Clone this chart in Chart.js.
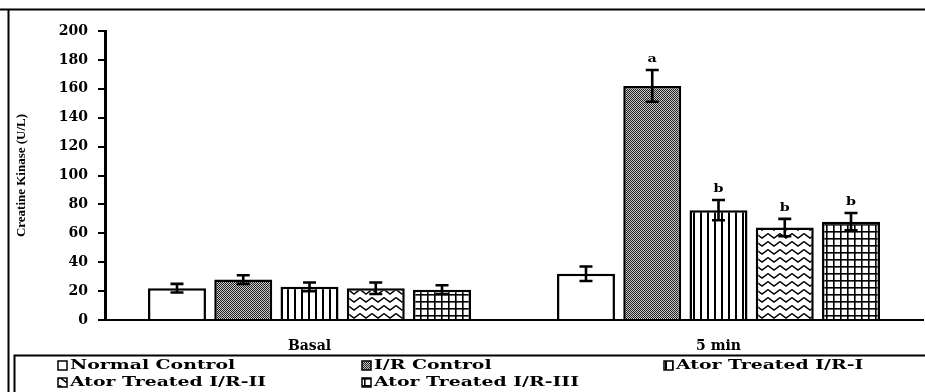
<!DOCTYPE html>
<html>
<head>
<meta charset="utf-8">
<script src="https://cdn.jsdelivr.net/npm/chart.js@4.4.1/dist/chart.umd.min.js"></script>
<style>
  html, body { margin: 0; padding: 0; background: #fff; }
  #wrap { width: 925px; height: 392px; position: relative; }
</style>
</head>
<body>
<div id="wrap"><canvas id="c" width="925" height="392"></canvas></div>
<script>
// Creatine kinase (U/L) per group, basal and after 5 min of reperfusion
const categories = ['Basal', '5 min'];
const groupNames = ['Normal Control', 'I/R Control', 'Ator Treated I/R-I', 'Ator Treated I/R-II', 'Ator Treated I/R-III'];

const normalControl = [22, 32];
const irControl     = [28, 162];
const atorI         = [23, 76];
const atorII        = [22, 64];
const atorIII       = [21, 68];

// standard errors
const normalControlErr = [3, 5];
const irControlErr     = [3, 11];
const atorIErr         = [3, 7];
const atorIIErr        = [4, 6];
const atorIIIErr       = [3, 6];

// significance letters above the bars
const normalControlSig = ['', ''];
const irControlSig     = ['', 'a'];
const atorISig         = ['', 'b'];
const atorIISig        = ['', 'b'];
const atorIIISig       = ['', 'b'];

const yMin = 0, yMax = 200, yStep = 20;

const SERIF = "'DejaVu Serif', 'Liberation Serif', serif";

// hatch fills
function makePattern(kind) {
  const c = document.createElement('canvas');
  const g = c.getContext('2d');
  if (kind === 'dots') {
    c.width = 2; c.height = 2;
    g.fillStyle = '#c8c8c8'; g.fillRect(0, 0, 2, 2);
    g.fillStyle = '#222'; g.fillRect(0, 0, 1, 1); g.fillRect(1, 1, 1, 1);
  } else if (kind === 'vlines') {
    c.width = 7; c.height = 4;
    g.fillStyle = '#fff'; g.fillRect(0, 0, 7, 4);
    g.fillStyle = '#000'; g.fillRect(0, 0, 2, 4);
  } else if (kind === 'zigzag') {
    c.width = 12; c.height = 8;
    g.fillStyle = '#fff'; g.fillRect(0, 0, 12, 8);
    g.strokeStyle = '#000'; g.lineWidth = 1.4;
    g.beginPath(); g.moveTo(0, 1.5); g.lineTo(6, 6); g.lineTo(12, 1.5); g.stroke();
  } else if (kind === 'grid') {
    c.width = 7; c.height = 7;
    g.fillStyle = '#fff'; g.fillRect(0, 0, 7, 7);
    g.fillStyle = '#000'; g.fillRect(0, 0, 7, 1.6); g.fillRect(0, 0, 1.6, 7);
  } else {
    return '#ffffff';
  }
  return g.createPattern(c, 'repeat');
}

const series = [normalControl, irControl, atorI, atorII, atorIII];
const errs = [normalControlErr, irControlErr, atorIErr, atorIIErr, atorIIIErr];
const sigs = [normalControlSig, irControlSig, atorISig, atorIISig, atorIIISig];
const fills = ['none', 'dots', 'vlines', 'zigzag', 'grid'];

const datasets = groupNames.map((name, i) => ({
  label: name,
  data: series[i],
  err: errs[i],
  sig: sigs[i],
  backgroundColor: makePattern(fills[i]),
  borderColor: '#000',
  borderWidth: 2.5,
  categoryPercentage: 0.81,
  barPercentage: 0.875
}));

// stretched text helper
function wideText(ctx, text, x, y, sx, align) {
  ctx.save();
  ctx.translate(x, y);
  ctx.scale(sx, 1);
  ctx.textAlign = align || 'left';
  ctx.fillText(text, 0, 0);
  ctx.restore();
}

const decor = {
  id: 'decor',
  afterDatasetsDraw(chart) {
    const ctx = chart.ctx;
    const y = chart.scales.y;
    chart.data.datasets.forEach((ds, i) => {
      const meta = chart.getDatasetMeta(i);
      meta.data.forEach((bar, j) => {
        const v = ds.data[j], e = ds.err[j];
        const yt = y.getPixelForValue(v + e);
        const yb = y.getPixelForValue(v - e);
        const x = bar.x;
        ctx.save();
        ctx.strokeStyle = '#000';
        ctx.lineWidth = 2.6;
        ctx.beginPath();
        ctx.moveTo(x, yt); ctx.lineTo(x, yb);
        ctx.moveTo(x - 6.5, yt); ctx.lineTo(x + 6.5, yt);
        ctx.moveTo(x - 6.5, yb); ctx.lineTo(x + 6.5, yb);
        ctx.stroke();
        if (ds.sig[j]) {
          ctx.fillStyle = '#000';
          ctx.font = 'bold 11px ' + SERIF;
          ctx.textBaseline = 'middle';
          wideText(ctx, ds.sig[j], x, yt - 11, 1.3, 'center');
        }
        ctx.restore();
      });
    });
  },
  afterDraw(chart) {
    const ctx = chart.ctx;
    ctx.save();
    ctx.strokeStyle = '#000';
    ctx.lineWidth = 2;
    // outer frame
    ctx.beginPath();
    ctx.moveTo(0, 9.5); ctx.lineTo(925, 9.5);
    ctx.moveTo(8.5, 9.5); ctx.lineTo(8.5, 392);
    ctx.stroke();
    // legend box
    ctx.beginPath();
    ctx.moveTo(14.5, 392); ctx.lineTo(14.5, 355.5); ctx.lineTo(925, 355.5);
    ctx.stroke();
    // legend entries
    const cols = [62, 366, 668];
    const rows = [366, 383];
    chart.data.datasets.forEach((ds, i) => {
      const cx = cols[i % 3], cy = rows[Math.floor(i / 3)];
      ctx.fillStyle = ds.backgroundColor;
      ctx.fillRect(cx - 4, cy - 5, 9, 9);
      ctx.lineWidth = 1.5;
      ctx.strokeStyle = '#000';
      ctx.strokeRect(cx - 4, cy - 5, 9, 9);
      ctx.fillStyle = '#000';
      ctx.font = 'bold 13px ' + SERIF;
      ctx.textBaseline = 'middle';
      wideText(ctx, ds.label, cx + 8, cy, 1.45, 'left');
    });
    ctx.restore();
  }
};

new Chart(document.getElementById('c'), {
  type: 'bar',
  data: { labels: categories, datasets: datasets },
  options: {
    responsive: false,
    animation: false,
    layout: { padding: { left: 14, right: 2, top: 31, bottom: 37 } },
    plugins: { legend: { display: false }, tooltip: { enabled: false } },
    scales: {
      x: {
        grid: { display: false, drawTicks: false },
        border: { display: true, color: '#000', width: 2 },
        ticks: { color: '#000', padding: 18, font: { family: SERIF, weight: 'bold', size: 14 } },
        afterFit(scale) { scale.height = 35; }
      },
      y: {
        min: yMin, max: yMax,
        ticks: { stepSize: yStep, color: '#000', padding: 10, font: { family: SERIF, weight: 'bold', size: 14 } },
        grid: { drawOnChartArea: false, drawTicks: true, tickLength: 7, color: '#000', lineWidth: 2 },
        border: { display: true, color: '#000', width: 3 },
        title: {
          display: true,
          text: 'Creatine Kinase (U/L)',
          color: '#000',
          padding: { top: 0, bottom: 0 },
          font: { family: "'Liberation Serif', serif", weight: 'bold', size: 13 }
        },
        afterFit(scale) { scale.width = 91; }
      }
    }
  },
  plugins: [decor]
});
</script>
</body>
</html>
